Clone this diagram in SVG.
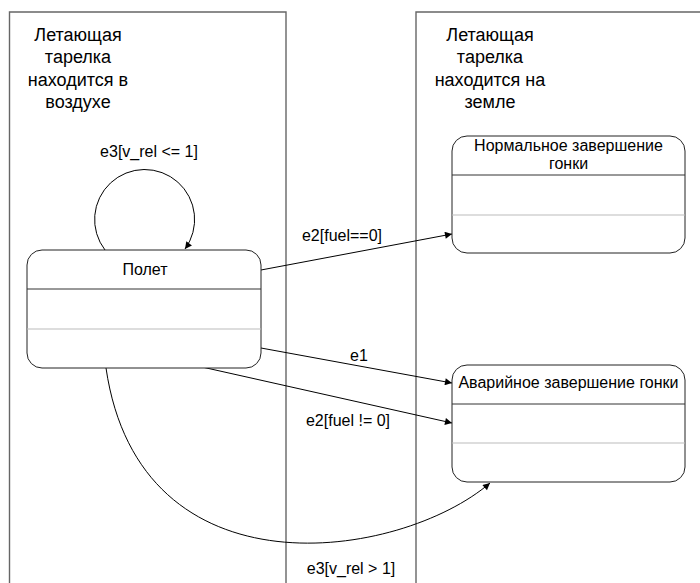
<svg xmlns="http://www.w3.org/2000/svg" width="700" height="583" viewBox="0 0 700 583">
<style>
text{font-family:"Liberation Sans",Arial,sans-serif;font-size:16px;fill:#000}
.title{font-size:18px}
.frame{fill:none;stroke:#666;stroke-width:1.4}
.box{fill:#fff;stroke:#222;stroke-width:1}
.div1{stroke:#333;stroke-width:1}
.div2{stroke:#bbb;stroke-width:1.2}
.conn{fill:none;stroke:#000;stroke-width:1}
</style>
<defs>
<marker id="arr" viewBox="0 0 10 10" refX="10" refY="5" markerWidth="9" markerHeight="7" markerUnits="userSpaceOnUse" orient="auto">
<path d="M0,0 L10,5 L0,10 z" fill="#000"/>
</marker>
</defs>
<rect width="700" height="583" fill="#fff"/>
<g id="frame-air">
<path class="frame" d="M9.5,600 V12 H286 V600"/>
<text class="title" text-anchor="middle" x="78" y="41">Летающая</text>
<text class="title" text-anchor="middle" x="78" y="63">тарелка</text>
<text class="title" text-anchor="middle" x="78" y="85.5">находится в</text>
<text class="title" text-anchor="middle" x="78" y="107.5">воздухе</text>
</g>
<g id="frame-ground">
<path class="frame" d="M416,600 V12 H710"/>
<text class="title" text-anchor="middle" x="490" y="41">Летающая</text>
<text class="title" text-anchor="middle" x="490" y="63">тарелка</text>
<text class="title" text-anchor="middle" x="490" y="85.5">находится на</text>
<text class="title" text-anchor="middle" x="490" y="107.5">земле</text>
</g>
<g id="connectors">
<path class="conn" d="M105,250 A50,50 0 1,1 185,249" marker-end="url(#arr)"/>
<path class="conn" d="M261,270 L452,234" marker-end="url(#arr)"/>
<path class="conn" d="M261,348 L452,383" marker-end="url(#arr)"/>
<path class="conn" d="M202,367 L452,423" marker-end="url(#arr)"/>
<path class="conn" d="M106,368 C140,600 400,560 490,483" marker-end="url(#arr)"/>
<text text-anchor="middle" x="149" y="157">e3[v_rel &lt;= 1]</text>
<text text-anchor="middle" x="342" y="241">e2[fuel==0]</text>
<text text-anchor="middle" x="359" y="361">e1</text>
<text text-anchor="middle" x="348" y="426">e2[fuel != 0]</text>
<text text-anchor="middle" x="351" y="574">e3[v_rel &gt; 1]</text>
</g>
<g id="state-polet">
<rect class="box" x="27" y="250" width="234" height="118" rx="15"/>
<line class="div1" x1="27" y1="289" x2="261" y2="289"/>
<line class="div2" x1="27" y1="329" x2="261" y2="329"/>
<text text-anchor="middle" x="145" y="275">Полет</text>
</g>
<g id="state-normal">
<rect class="box" x="452" y="136" width="233" height="117" rx="15"/>
<line class="div1" x1="452" y1="175" x2="685" y2="175"/>
<line class="div2" x1="452" y1="215" x2="685" y2="215"/>
<text text-anchor="middle" x="568.5" y="151">Нормальное завершение</text>
<text text-anchor="middle" x="568.5" y="169">гонки</text>
</g>
<g id="state-crash">
<rect class="box" x="452" y="365" width="233" height="117" rx="15"/>
<line class="div1" x1="452" y1="404" x2="685" y2="404"/>
<line class="div2" x1="452" y1="443" x2="685" y2="443"/>
<text text-anchor="middle" x="568.5" y="388">Аварийное завершение гонки</text>
</g>
</svg>
